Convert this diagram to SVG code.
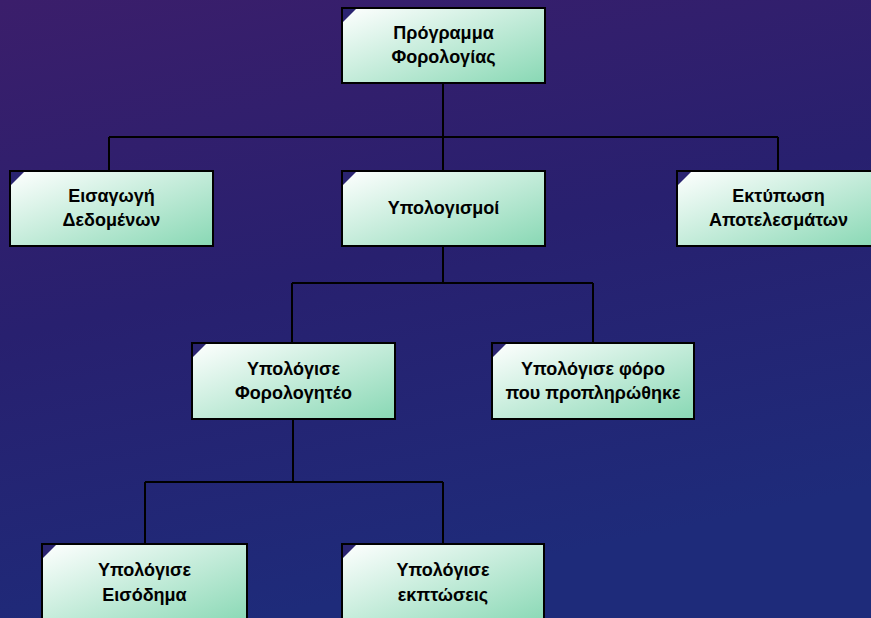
<svg xmlns="http://www.w3.org/2000/svg" width="871" height="618" viewBox="0 0 871 618">
<defs>
<linearGradient id="bg" x1="0" y1="0" x2="0.3" y2="1">
<stop offset="0" stop-color="#3b1e6b"/>
<stop offset="0.5" stop-color="#28206f"/>
<stop offset="1" stop-color="#1e2b7a"/>
</linearGradient>
<linearGradient id="box" x1="0" y1="0" x2="1" y2="1">
<stop offset="0" stop-color="#ffffff"/>
<stop offset="1" stop-color="#88d8b4"/>
</linearGradient>
<style>
.b{fill:url(#box);stroke:#000;stroke-width:2}
.c{fill:#2a2470}
.t{font-family:"Liberation Sans",Arial,sans-serif;font-size:18px;font-weight:bold;fill:#000;text-anchor:middle}
.l{fill:none;stroke:#000;stroke-width:2}
</style>
</defs>
<rect width="871" height="618" fill="url(#bg)"/>
<g id="connectors">
<path class="l" d="M443 84V137M109 137H778M109 137V171M443 137V171M778 137V171"/>
<path class="l" d="M443 247V283M292 283H593M292 283V343M593 283V343"/>
<path class="l" d="M293 420V482M145 482H443M145 482V544M443 482V544"/>
</g>
<g id="root">
<rect class="b" x="342" y="8" width="203" height="75"/>
<path class="c" d="M343 9h13l-13 13z"/>
<text class="t" x="443.5" y="39">Πρόγραμμα</text>
<text class="t" x="443.5" y="63">Φορολογίας</text>
</g>
<g id="input">
<rect class="b" x="10" y="171" width="203" height="75"/>
<path class="c" d="M11 172h13l-13 13z"/>
<text class="t" x="111.5" y="202">Εισαγωγή</text>
<text class="t" x="111.5" y="226">Δεδομένων</text>
</g>
<g id="calc">
<rect class="b" x="342" y="171" width="203" height="75"/>
<path class="c" d="M343 172h13l-13 13z"/>
<text class="t" x="443.5" y="214">Υπολογισμοί</text>
</g>
<g id="print">
<rect class="b" x="677" y="171" width="203" height="75"/>
<path class="c" d="M678 172h13l-13 13z"/>
<text class="t" x="778.5" y="202">Εκτύπωση</text>
<text class="t" x="778.5" y="226">Αποτελεσμάτων</text>
</g>
<g id="taxable">
<rect class="b" x="192" y="343" width="203" height="76"/>
<path class="c" d="M193 344h13l-13 13z"/>
<text class="t" x="293.5" y="375">Υπολόγισε</text>
<text class="t" x="293.5" y="399">Φορολογητέο</text>
</g>
<g id="prepaid">
<rect class="b" x="492" y="343" width="202" height="76"/>
<path class="c" d="M493 344h13l-13 13z"/>
<text class="t" x="593" y="375">Υπολόγισε φόρο</text>
<text class="t" x="593" y="399">που προπληρώθηκε</text>
</g>
<g id="income">
<rect class="b" x="42" y="544" width="205" height="80"/>
<path class="c" d="M43 545h13l-13 13z"/>
<text class="t" x="144.5" y="576">Υπολόγισε</text>
<text class="t" x="144.5" y="601">Εισόδημα</text>
</g>
<g id="deductions">
<rect class="b" x="342" y="544" width="202" height="80"/>
<path class="c" d="M343 545h13l-13 13z"/>
<text class="t" x="443" y="576">Υπολόγισε</text>
<text class="t" x="443" y="601">εκπτώσεις</text>
</g>
</svg>
